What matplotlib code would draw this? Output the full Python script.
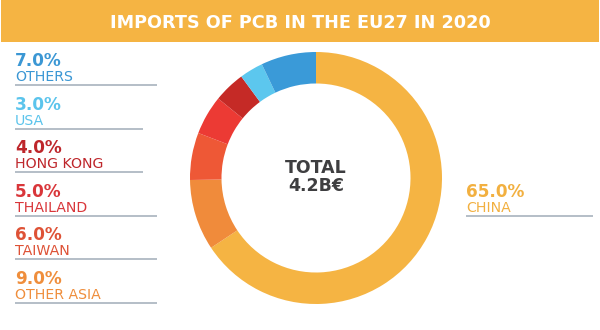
import matplotlib
matplotlib.use("Agg")
import matplotlib.pyplot as plt
from matplotlib.patches import Rectangle

# Import shares of printed circuit boards into the EU27, 2020 (%)
countries = ["CHINA", "OTHER ASIA", "TAIWAN", "THAILAND", "HONG KONG", "USA", "OTHERS"]
shares = [65.0, 9.0, 6.0, 5.0, 4.0, 3.0, 7.0]
colors = ["#F5B443", "#F08B3B", "#EE5836", "#EC3A34", "#C52A26", "#5CC7EE", "#3A9AD8"]
label_colors = ["#F2B040", "#EF8E3C", "#DE5236", "#D9363A", "#BE262B", "#5BC4EC", "#3B97D4"]
title = "IMPORTS OF PCB IN THE EU27 IN 2020"
total_lines = ["TOTAL", "4.2B€"]

W, H = 600, 330
fig = plt.figure(figsize=(W / 100, H / 100), dpi=100)
fig.patch.set_facecolor("white")

# full-figure overlay in pixel coordinates for banner, labels and rules
ov = fig.add_axes([0, 0, 1, 1])
ov.set_xlim(0, W)
ov.set_ylim(H, 0)
ov.axis("off")

ov.add_patch(Rectangle((1, 0), W - 2, 42, facecolor="#F5B443", edgecolor="none"))
ov.text(W / 2, 28, title, color="white", fontsize=12.7, fontweight="bold",
        family="DejaVu Sans", ha="center", va="baseline")

# donut
cx, cy, r = 316, 178, 126
pax = fig.add_axes([(cx - r) / W, (H - cy - r) / H, 2 * r / W, 2 * r / H])
pax.pie(shares, colors=colors, startangle=90, counterclock=False, radius=1.0,
        wedgeprops=dict(width=0.25, edgecolor="none"))
pax.set_xlim(-1, 1)
pax.set_ylim(-1, 1)
pax.axis("off")

ov.text(cx, 177, "\n".join(total_lines), color="#3E3E40", fontsize=12.5,
        fontweight="bold", ha="center", va="center", multialignment="center",
        linespacing=0.95)

rule_color = "#A8B3BD"

def label(x, y, share, name, col, x_end):
    ov.text(x, y, f"{share:.1f}%", color=col, fontsize=12.2, fontweight="bold",
            ha="left", va="baseline")
    ov.text(x, y + 15, name, color=col, fontsize=10.2, fontweight="normal",
            ha="left", va="baseline")
    ov.plot([x, x_end], [y + 19, y + 19], color=rule_color, lw=1.2,
            solid_capstyle="butt")

# left column, top to bottom: reversed order of the remaining slices
left_idx = list(range(len(countries) - 1, 0, -1))
rule_ends = [157, 143, 143, 157, 157, 157]
for k, i in enumerate(left_idx):
    label(15, 66 + k * 43.6, shares[i], countries[i], label_colors[i], rule_ends[k])

# China on the right
label(466, 197, shares[0], countries[0], label_colors[0], 593)

fig.savefig("out.png", dpi=100, facecolor="white")
